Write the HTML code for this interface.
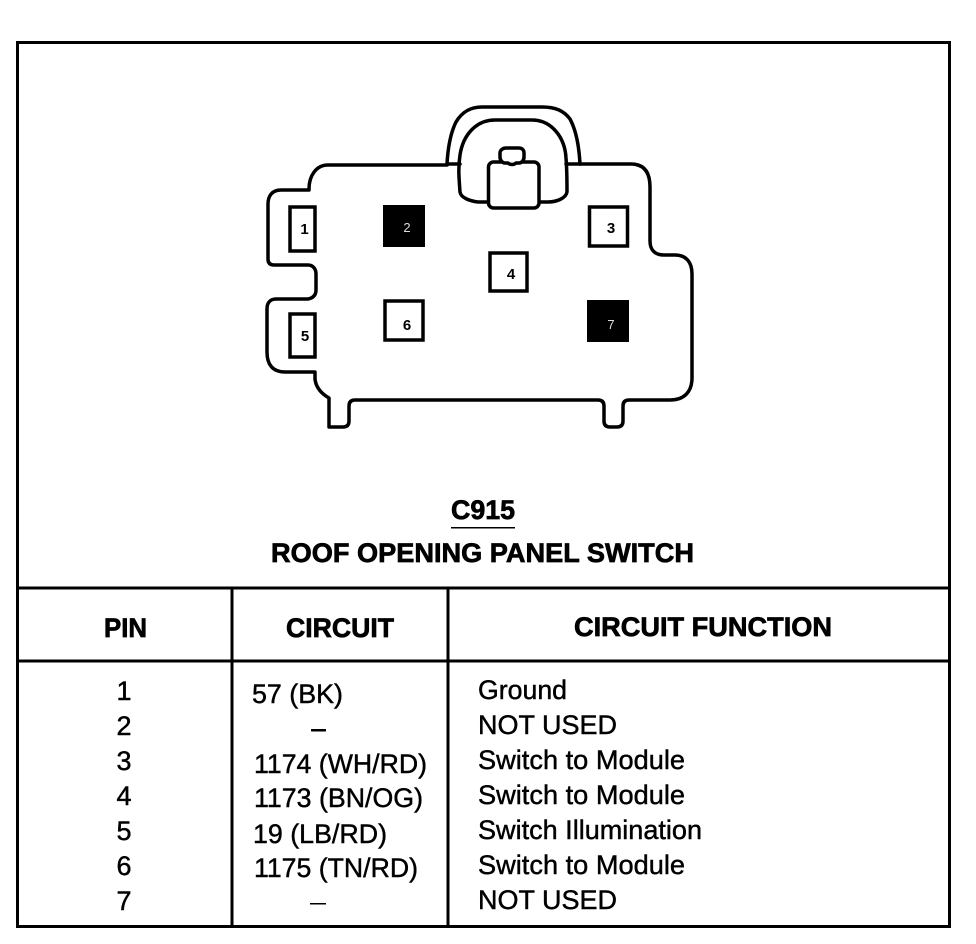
<!DOCTYPE html>
<html>
<head>
<meta charset="utf-8">
<style>
html,body{margin:0;padding:0;background:#fff;}
svg{display:block;}
text{font-family:"Liberation Sans",sans-serif;fill:#000;}
.b{font-weight:bold;font-size:27px;stroke:#000;stroke-width:.7px;}
.r{font-size:27px;stroke:#000;stroke-width:.45px;}
.p{font-size:15px;font-weight:bold;text-anchor:middle;}
.c{text-anchor:middle;}
</style>
</head>
<body>
<svg width="976" height="944" viewBox="0 0 976 944" xmlns="http://www.w3.org/2000/svg">
<rect width="976" height="944" fill="#fff"/>
<g fill="none" stroke="#000" stroke-width="3">
<rect x="17.5" y="42.5" width="932" height="884"/>
<path d="M17 588H950M17 661H950M232 588V928M448 588V928"/>
</g>
<g fill="none" stroke="#000" stroke-width="3.5" stroke-linejoin="round" stroke-linecap="round">
<path d="M447 165H328C316 165 309 176 309 189V190H281C272 190 268 196 268 204V259C268 263 270 265 274 265H308C313 265 316 269 316 274V290C316 295 313 298 308 299H276C270 299 267 303 267 309V352C267 365 273 372 285 372H315V379C316 388 322 394 329 398V427H343C347 427 349 425 349 421V406C349 402 351 400 355 400H598C602 400 604 402 604 406V421C604 425 606 427 610 427H617C621 427 623 425 623 421V406C623 402 625 400 629 400H670C684 400 692 392 692 378V274C692 262 686 255 675 255H664C655 255 650 250 650 241V187C650 172 644 164 631 164H580"/>
<path d="M447 164C448 146 451 132 456 122C462 112 470 107 482 107H542C556 107 564 111 570 119C576 130 579 146 580 164"/>
<path d="M460 164H447M580 164H566"/>
<path d="M488 202H478C470 201 461 198 460 192C459 178 458 168 460 155C463 135 476 120 495 120H532C552 120 565 138 566 158C567 170 567 182 567 192C566 198 557 202 548 202H539"/>
<rect x="488.500" y="162" width="50.500" height="46" rx="5" fill="#fff"/>
<path d="M508 163H505C502 163 500 160 500 157V153C500 150 503 148 506 148H519C522 148 524 150 524 153V157C524 160 522 163 519 163H516C514 165 510 165 508 163Z" fill="#fff"/>
</g>
<g fill="#fff" stroke="#000" stroke-width="3.5">
<rect x="290" y="207" width="25" height="44"/>
<rect x="589.500" y="207" width="38" height="39"/>
<rect x="490" y="253" width="37" height="38"/>
<rect x="290" y="314" width="25" height="43"/>
<rect x="385" y="301" width="38" height="39"/>
</g>
<rect x="383" y="205" width="42" height="42" fill="#000"/>
<rect x="587" y="300" width="42" height="42" fill="#000"/>
<text class="p" x="304.500" y="234">1</text>
<text class="p" x="407" y="232" style="fill:#ddd;font-weight:normal;font-size:13px">2</text>
<text class="p" x="611" y="233">3</text>
<text class="p" x="511" y="279">4</text>
<text class="p" x="305" y="341">5</text>
<text class="p" x="407" y="330">6</text>
<text class="p" x="611" y="329" style="fill:#ddd;font-weight:normal;font-size:13px">7</text>

<text class="b" x="451" y="519" textLength="64" lengthAdjust="spacingAndGlyphs">C915</text>
<rect x="451" y="527" width="64" height="1.500" fill="#000"/>
<text class="b" x="271" y="562" textLength="423" lengthAdjust="spacingAndGlyphs">ROOF OPENING PANEL SWITCH</text>

<text class="b" x="104" y="637" textLength="43" lengthAdjust="spacingAndGlyphs">PIN</text>
<text class="b" x="286" y="637" textLength="108" lengthAdjust="spacingAndGlyphs">CIRCUIT</text>
<text class="b" x="574" y="636" textLength="258" lengthAdjust="spacingAndGlyphs">CIRCUIT FUNCTION</text>

<g class="pins">
<text class="r c" x="124" y="700">1</text>
<text class="r c" x="124" y="735">2</text>
<text class="r c" x="124" y="770">3</text>
<text class="r c" x="124" y="805">4</text>
<text class="r c" x="124" y="840">5</text>
<text class="r c" x="124" y="875">6</text>
<text class="r c" x="124" y="910">7</text>
</g>

<text class="r" x="252" y="703" textLength="91" lengthAdjust="spacingAndGlyphs">57 (BK)</text>
<rect x="311" y="729" width="15" height="2.500" fill="#000"/>
<text class="r" x="254" y="773" textLength="173" lengthAdjust="spacingAndGlyphs">1174 (WH/RD)</text>
<text class="r" x="254" y="807" textLength="169" lengthAdjust="spacingAndGlyphs">1173 (BN/OG)</text>
<text class="r" x="253" y="843" textLength="134" lengthAdjust="spacingAndGlyphs">19 (LB/RD)</text>
<text class="r" x="254" y="877" textLength="164" lengthAdjust="spacingAndGlyphs">1175 (TN/RD)</text>
<rect x="310" y="903" width="16" height="1.500" fill="#000"/>

<text class="r" x="478" y="699" textLength="89" lengthAdjust="spacingAndGlyphs">Ground</text>
<text class="r" x="478" y="734" textLength="139" lengthAdjust="spacingAndGlyphs">NOT USED</text>
<text class="r" x="478" y="769" textLength="207" lengthAdjust="spacingAndGlyphs">Switch to Module</text>
<text class="r" x="478" y="804" textLength="207" lengthAdjust="spacingAndGlyphs">Switch to Module</text>
<text class="r" x="478" y="839" textLength="224" lengthAdjust="spacingAndGlyphs">Switch Illumination</text>
<text class="r" x="478" y="874" textLength="207" lengthAdjust="spacingAndGlyphs">Switch to Module</text>
<text class="r" x="478" y="909" textLength="139" lengthAdjust="spacingAndGlyphs">NOT USED</text>
</svg>
</body>
</html>
